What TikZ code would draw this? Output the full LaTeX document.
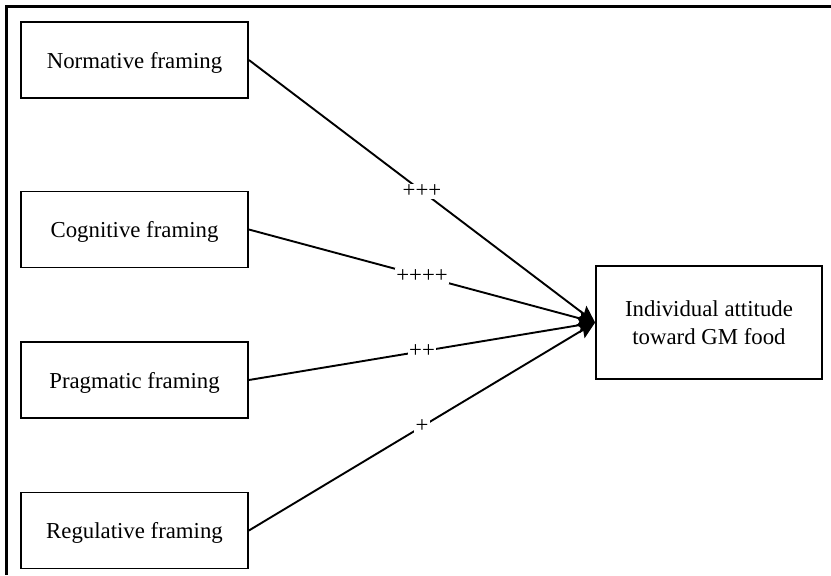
\documentclass[tikz,border=0pt]{standalone}
\usepackage{fontspec}
\setmainfont{Liberation Serif}
\usetikzlibrary{arrows.meta}
\begin{document}
\begin{tikzpicture}[x=0.5pt,y=-0.5pt,
  box/.style={draw=black,line width=0.9pt,minimum width=113.5pt,minimum height=38pt,inner sep=0pt,align=center,text depth=0pt,font=\fontsize{11.4pt}{14pt}\selectfont},
  bigbox/.style={box,minimum width=113pt,minimum height=56.5pt},
  conn/.style={line width=0.95pt,-{Stealth[length=8.5pt,width=8pt,inset=1.5pt]}},
  lab/.style={fill=white,inner sep=0.6pt,font=\fontsize{11.4pt}{13pt}\selectfont}]
\useasboundingbox (0,0) rectangle (831,575);
\draw[line width=1.2pt] (831,6.5) -- (6.5,6.5) -- (6.5,575);
\node[box] (norm) at (134.5,60) {Normative framing};
\node[box] (cogn) at (134.5,229.5) {Cognitive framing};
\node[box] (prag) at (134.5,380) {Pragmatic framing};
\node[box] (regu) at (134.5,530.5) {Regulative framing};
\node[bigbox] (att) at (709,322.5) {Individual attitude\\toward GM food};
\draw[conn] (norm.east) -- node[lab] {+++} (att.west);
\draw[conn] (cogn.east) -- node[lab] {++++} (att.west);
\draw[conn] (prag.east) -- node[lab] {++} (att.west);
\draw[conn] (regu.east) -- node[lab] {+} (att.west);
\end{tikzpicture}
\end{document}
